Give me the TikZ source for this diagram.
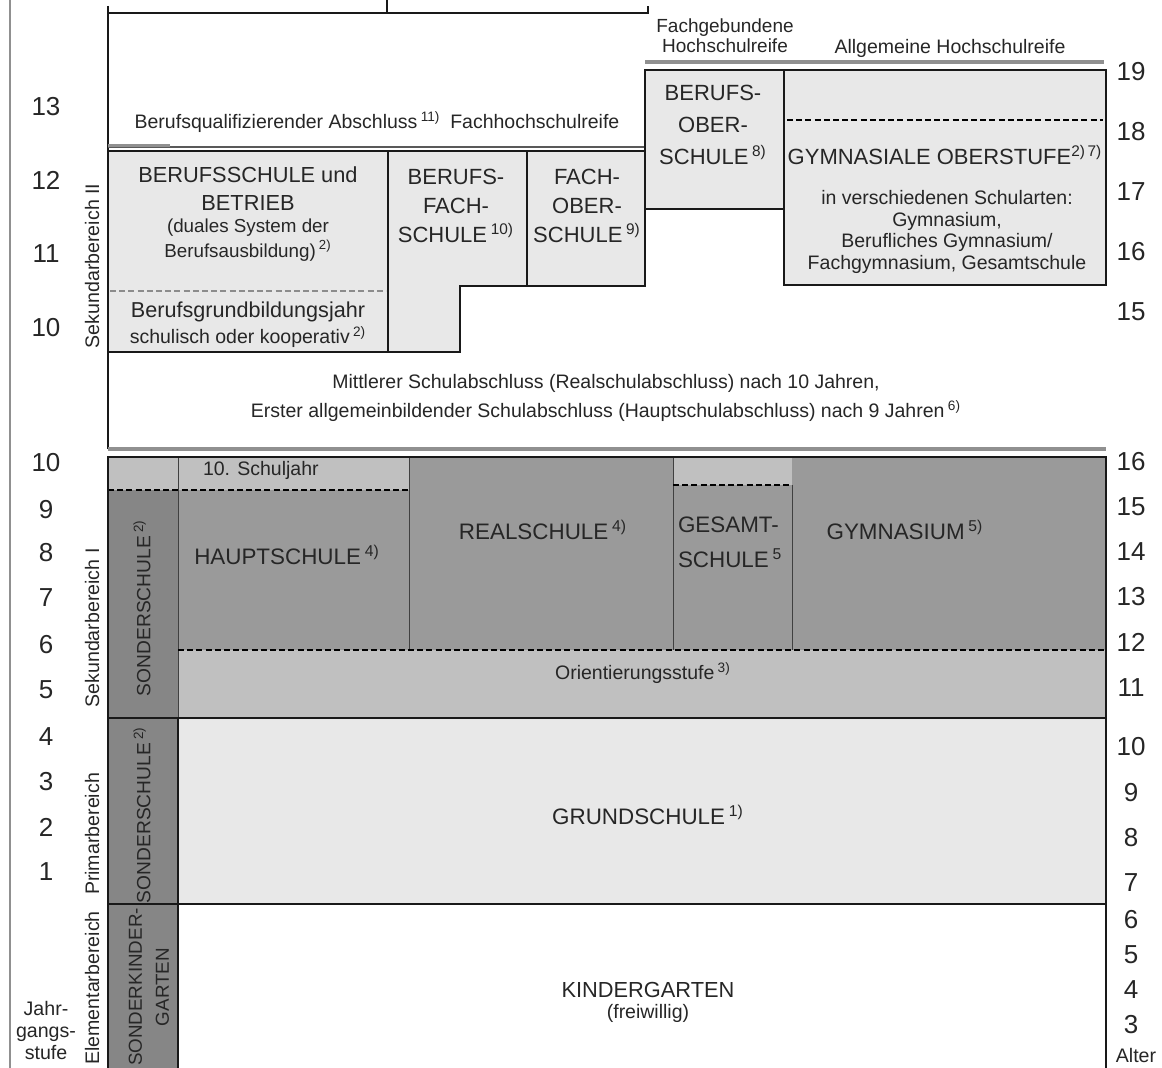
\documentclass[tikz,border=0pt]{standalone}
\usepackage{fontspec}
\setmainfont{Liberation Sans}
\definecolor{cLight}{HTML}{E8E8E8}
\definecolor{cMid}{HTML}{C0C0C0}
\definecolor{cDark}{HTML}{9A9A9A}
\definecolor{cSonder}{HTML}{868686}
\definecolor{cText}{HTML}{262626}
\definecolor{cRule}{HTML}{909090}
\begin{document}
\begin{tikzpicture}[x=0.5pt,y=-0.5pt,
  every node/.style={inner sep=0pt, outer sep=0pt, text=cText},
  frame/.style={draw=black!90, line width=0.8pt},
  thinline/.style={draw=black!75, line width=0.5pt},
  dline/.style={draw=black, line width=0.6pt, dash pattern=on 3pt off 1.6pt},
  gdline/.style={draw=black!45, line width=0.9pt, dash pattern=on 3pt off 1.6pt},
  grayrule/.style={draw=cRule, line width=1.6pt},
  fL/.style={font=\fontsize{11}{14.5}\selectfont, align=center},
  fS/.style={font=\fontsize{9.75}{11}\selectfont, align=center},
  fN/.style={font=\fontsize{13}{15}\selectfont},
  fR/.style={font=\fontsize{9.6}{11}\selectfont, rotate=90, align=center},
  ]
\useasboundingbox (0,0) rectangle (1162,1068);

% outer rules
\draw[draw=cRule, line width=1pt] (10,0) -- (10,1068);
\draw[frame] (108,6) -- (108,449);
\draw[frame] (108,13) -- (648,13) -- (648,6);
\draw[frame] (387,0) -- (387,13);
\draw[draw=black!65, line width=1pt] (108,147) -- (645,147);
\draw[draw=cRule, line width=1.2pt] (108,145.5) -- (170,145.5);
\draw[grayrule] (645,62) -- (1104,62);
\draw[grayrule] (108,449) -- (1106,449);

% ---------- Sekundarbereich II ----------
\path[fill=cLight] (108,151) rectangle (388,352);
\path[fill=cLight] (388,151) -- (527,151) -- (527,286) -- (460,286) -- (460,352) -- (388,352) -- cycle;
\path[fill=cLight] (527,151) rectangle (645,286);
\path[fill=cLight] (645,70) rectangle (784,209);
\path[fill=cLight] (784,70) rectangle (1106,285);
\draw[frame] (108,151) rectangle (388,352);
\draw[frame] (388,151) -- (527,151) -- (527,286) -- (460,286) -- (460,352) -- (388,352);
\draw[frame] (527,151) rectangle (645,286);
\draw[frame] (645,70) rectangle (784,209);
\draw[frame] (784,70) rectangle (1106,285);
\draw[gdline] (110,291) -- (386,291);
\draw[dline] (787,120) -- (1103,120);

% ---------- Sekundarbereich I and below ----------
\fill[cMid] (108,457) rectangle (409,490);
\fill[cDark] (409,457) rectangle (673,650);
\fill[cMid] (673,457) rectangle (792,485);
\fill[cDark] (673,485) rectangle (792,650);
\fill[cDark] (792,457) rectangle (1106,650);
\fill[cDark] (178,490) rectangle (409,650);
\fill[cSonder] (108,490) rectangle (178,718);
\fill[cMid] (178,650) rectangle (1106,718);
\fill[cLight] (178,718) rectangle (1106,904);
\fill[cSonder] (108,718) rectangle (178,1068);

\draw[thinline] (178,457) -- (178,718);
\draw[thinline] (409,457) -- (409,650);
\draw[thinline] (673,457) -- (673,650);
\draw[thinline] (792,485) -- (792,650);
\draw[dline] (108,490) -- (409,490);
\draw[dline] (673,485) -- (792,485);
\draw[dline] (178,650) -- (1106,650);
\draw[frame] (108,1068) -- (108,457) -- (1106,457) -- (1106,1068);
\draw[frame] (108,718) -- (1106,718);
\draw[frame] (108,904) -- (1106,904);
\draw[frame, line width=1.1pt] (178,718) -- (178,1068);

% ---------- texts top ----------
\node[fS, font=\fontsize{9.5}{10}\selectfont] (fgh) at (725,36) {Fachgebundene\\Hochschulreife};
\node[fS] (ahr) at (950,48) {Allgemeine Hochschulreife};
\node[fS] (bqa) at (377,122) {Berufsqualifizierender Abschluss\,\textsuperscript{11)}\enspace Fachhochschulreife};

\node[fL, font=\fontsize{11}{16}\selectfont] (bos) at (713,125) {BERUFS-\\OBER-\\SCHULE\,\textsuperscript{8)}};
\node[fL] (gos) at (945,155) {GYMNASIALE OBERSTUFE\textsuperscript{2)\,7)}};
\node[fS, font=\fontsize{9.75}{10.9}\selectfont] (gosb) at (947,232) {in verschiedenen Schularten:\\Gymnasium,\\Berufliches Gymnasium/\\Fachgymnasium, Gesamtschule};

\node[fL, font=\fontsize{10.9}{14}\selectfont] (bs1) at (248,189) {BERUFSSCHULE und\\BETRIEB};
\node[fS, font=\fontsize{9.4}{12.5}\selectfont] (bs2) at (248,240) {(duales System der\\Berufsausbildung)\,\textsuperscript{2)}};
\node[fL, font=\fontsize{10.8}{13}\selectfont] (bgj1) at (248,312) {Berufsgrundbildungsjahr};
\node[fS] (bgj2) at (248,337) {schulisch oder kooperativ\,\textsuperscript{2)}};
\node[fL] (bfs) at (456,206) {BERUFS-\\FACH-\\SCHULE\,\textsuperscript{10)}};
\node[fL] (fos) at (587,206) {FACH-\\OBER-\\SCHULE\,\textsuperscript{9)}};

\node[fS, font=\fontsize{9.75}{14.5}\selectfont] (msa) at (606,398) {Mittlerer Schulabschluss (Realschulabschluss) nach 10 Jahren,\\Erster allgemeinbildender Schulabschluss (Hauptschulabschluss) nach 9 Jahren\,\textsuperscript{6)}};

% ---------- texts lower ----------
\node[fS, anchor=west] (zsj) at (203,470) {10. Schuljahr};
\node[fL, font=\fontsize{11.2}{14}\selectfont] (hs) at (287,555) {HAUPTSCHULE\,\textsuperscript{4)}};
\node[fL, font=\fontsize{11.2}{14}\selectfont] (rs) at (543,530) {REALSCHULE\,\textsuperscript{4)}};
\node[fL, font=\fontsize{11.2}{17.5}\selectfont, align=left, anchor=north west] (ges) at (678,517) {GESAMT-\\SCHULE\,\textsuperscript{5}};
\node[fL, font=\fontsize{11.2}{14}\selectfont] (gym) at (905,530) {GYMNASIUM\,\textsuperscript{5)}};
\node[fS] (ors) at (643,673) {Orientierungsstufe\,\textsuperscript{3)}};
\node[fL, font=\fontsize{11.2}{14}\selectfont] (grs) at (648,815) {GRUNDSCHULE\,\textsuperscript{1)}};
\node[fL, font=\fontsize{10.9}{14}\selectfont] (kg1) at (648,990) {KINDERGARTEN};
\node[fS] (kg2) at (648,1013) {(freiwillig)};

\node[fR] (so1) at (142,608) {SONDERSCHULE\,\textsuperscript{2)}};
\node[fR] (so2) at (142,815) {SONDERSCHULE\,\textsuperscript{2)}};
\node[fR, font=\fontsize{9.4}{13.5}\selectfont] (skg) at (149,987) {SONDERKINDER-\\GARTEN};

% ---------- side labels ----------
\node[fR, font=\fontsize{9.8}{11}\selectfont] (sek2) at (92,266) {Sekundarbereich II};
\node[fR, font=\fontsize{9.8}{11}\selectfont] (sek1) at (92,628) {Sekundarbereich I};
\node[fR, font=\fontsize{9.8}{11}\selectfont] (prim) at (92,834) {Primarbereich};
\node[fR, font=\fontsize{9.8}{11}\selectfont] (elem) at (92,988) {Elementarbereich};
\node[fS, font=\fontsize{9.8}{11}\selectfont] (jgs) at (46,1030) {Jahr-\\gangs-\\stufe};
\node[fS, font=\fontsize{9.8}{11}\selectfont] (alter) at (1136,1055) {Alter};

% grade numbers
\foreach \t/\y [count=\i] in {13/107,12/180,11/254,10/328,10/463,9/510,8/553,7/598,6/645,5/690,4/737,3/782,2/827,1/872}
  \node[fN] (g\i) at (46,\y) {\t};
% age numbers
\foreach \t/\y [count=\i] in {19/72,18/132,17/192,16/252,15/312,16/462,15/507,14/552,13/597,12/642,11/688,10/747,9/793,8/838,7/883,6/920,5/955,4/990,3/1025}
  \node[fN] (a\i) at (1131,\y) {\t};
\end{tikzpicture}
\end{document}
